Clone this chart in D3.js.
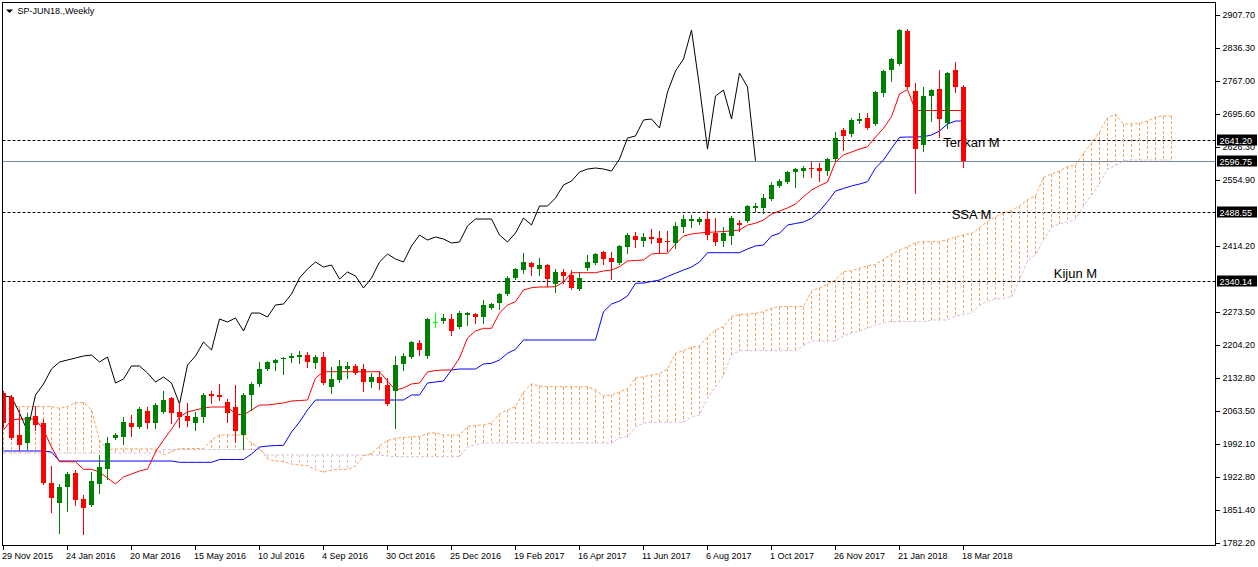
<!DOCTYPE html>
<html>
<head>
<meta charset="utf-8">
<script src="https://d3js.org/d3.v7.min.js"></script>
<style>
  html, body { margin: 0; padding: 0; background: #fff; }
  svg { display: block; font-family: "Liberation Sans", Arial, sans-serif; }
</style>
</head>
<body>
<div id="chart"></div>
<script>
// SP-JUN18 weekly bars, 29 Nov 2015 .. 18 Mar 2018 (121 bars)
const openP = [
  2101.9, 2093.4, 2012.4, 1995.4, 2052.9, 2038.0, 1910.1, 1867.5, 1901.6, 1931.4,
  1876.0, 1863.2, 1908.0, 1939.9, 2006.0, 2008.1, 2038.0, 2029.5, 2063.6, 2038.0,
  2061.4, 2091.3, 2061.4, 2052.9, 2038.0, 2050.8, 2099.8, 2097.7, 2082.7, 2072.1,
  2012.4, 2097.7, 2121.1, 2153.1, 2165.9, 2174.4, 2176.5, 2178.7, 2182.9, 2165.9,
  2178.7, 2114.7, 2129.6, 2153.1, 2159.5, 2153.1, 2125.4, 2136.0, 2119.0, 2106.2,
  2163.8, 2178.7, 2208.5, 2180.8, 2253.3, 2255.4, 2259.7, 2242.6, 2268.2, 2270.3,
  2263.9, 2283.1, 2293.8, 2313.0, 2347.1, 2364.1, 2379.0, 2366.3, 2374.8, 2334.3,
  2359.9, 2353.5, 2323.6, 2368.4, 2379.0, 2402.5, 2389.7, 2379.0, 2413.2, 2436.6,
  2425.9, 2434.5, 2432.3, 2425.9, 2421.7, 2455.8, 2468.6, 2466.4, 2472.8, 2443.0,
  2425.9, 2436.6, 2464.3, 2468.6, 2496.3, 2496.3, 2515.5, 2543.2, 2551.7, 2573.0,
  2575.1, 2581.5, 2581.5, 2575.1, 2600.7, 2662.5, 2654.0, 2681.7, 2688.1, 2675.3,
  2741.4, 2790.4, 2803.2, 2873.6, 2745.7, 2630.6, 2735.0, 2749.9, 2677.5, 2790.4,
  2754.2
];
const highP = [
  2106.2, 2097.7, 2065.7, 2059.3, 2074.2, 2046.5, 1946.3, 1908.0, 1933.5, 1937.8,
  1884.5, 1933.5, 1969.8, 2008.1, 2016.7, 2050.8, 2055.0, 2072.1, 2072.1, 2080.6,
  2106.2, 2093.4, 2080.6, 2080.6, 2061.4, 2101.9, 2106.2, 2121.1, 2089.1, 2119.0,
  2101.9, 2125.4, 2168.0, 2170.1, 2174.4, 2178.7, 2187.2, 2191.5, 2189.3, 2182.9,
  2189.3, 2157.4, 2172.3, 2168.0, 2163.8, 2163.8, 2144.6, 2148.8, 2133.9, 2180.8,
  2187.2, 2212.8, 2214.9, 2261.8, 2272.4, 2270.3, 2270.3, 2276.7, 2274.6, 2272.4,
  2300.2, 2293.8, 2315.1, 2351.3, 2368.4, 2400.4, 2381.2, 2389.7, 2376.9, 2366.3,
  2366.3, 2364.1, 2359.9, 2396.1, 2400.4, 2404.6, 2402.5, 2417.4, 2443.0, 2445.1,
  2443.0, 2451.5, 2447.3, 2447.3, 2466.4, 2481.4, 2481.4, 2477.1, 2489.9, 2474.9,
  2455.8, 2479.2, 2470.7, 2502.7, 2506.9, 2526.1, 2551.7, 2558.1, 2575.1, 2581.5,
  2585.8, 2594.3, 2592.2, 2602.9, 2658.3, 2666.8, 2688.1, 2698.8, 2698.8, 2745.7,
  2790.4, 2816.0, 2877.8, 2877.8, 2762.7, 2754.2, 2749.9, 2790.4, 2786.2, 2807.5,
  2758.5
];
const lowP = [
  2029.5, 2003.9, 1980.4, 1982.6, 2023.1, 1908.0, 1848.3, 1803.5, 1850.4, 1863.2,
  1801.4, 1861.1, 1888.8, 1918.6, 2003.9, 1993.2, 2010.3, 2027.3, 2027.3, 2027.3,
  2059.3, 2038.0, 2029.5, 2031.6, 2023.1, 2040.1, 2080.6, 2087.0, 2040.1, 1997.5,
  1982.6, 2065.7, 2116.8, 2151.0, 2151.0, 2142.4, 2168.0, 2165.9, 2157.4, 2155.2,
  2121.1, 2101.9, 2125.4, 2133.9, 2142.4, 2106.2, 2114.7, 2110.5, 2076.4, 2027.3,
  2151.0, 2176.5, 2182.9, 2176.5, 2242.6, 2251.1, 2225.6, 2240.5, 2246.9, 2251.1,
  2251.1, 2281.0, 2281.0, 2310.8, 2344.9, 2357.7, 2353.5, 2353.5, 2330.0, 2317.2,
  2336.4, 2323.6, 2321.5, 2364.1, 2376.9, 2376.9, 2344.9, 2376.9, 2400.4, 2413.2,
  2415.3, 2421.7, 2400.4, 2404.6, 2411.0, 2445.1, 2455.8, 2462.2, 2430.2, 2417.4,
  2415.3, 2419.5, 2447.3, 2466.4, 2489.9, 2485.6, 2513.3, 2541.0, 2549.6, 2541.0,
  2562.4, 2562.4, 2553.8, 2566.6, 2596.5, 2619.9, 2649.8, 2677.5, 2664.7, 2673.2,
  2735.0, 2767.0, 2801.1, 2752.1, 2528.2, 2617.8, 2681.7, 2647.6, 2666.8, 2743.5,
  2583.7
];
const closeP = [
  2038.0, 2006.0, 1991.1, 2050.8, 2033.7, 1910.1, 1878.1, 1901.6, 1929.3, 1873.9,
  1856.8, 1914.4, 1944.2, 1995.4, 2012.4, 2040.1, 2029.5, 2067.8, 2038.0, 2076.4,
  2087.0, 2059.3, 2050.8, 2042.3, 2050.8, 2097.7, 2095.5, 2093.4, 2059.3, 2020.9,
  2097.7, 2121.1, 2153.1, 2168.0, 2172.3, 2176.5, 2180.8, 2182.9, 2168.0, 2178.7,
  2123.2, 2131.8, 2159.5, 2159.5, 2144.6, 2125.4, 2136.0, 2123.2, 2078.5, 2161.6,
  2180.8, 2210.6, 2193.6, 2259.7, 2253.3, 2261.8, 2234.1, 2272.4, 2272.4, 2263.9,
  2289.5, 2291.6, 2313.0, 2347.1, 2366.3, 2381.2, 2370.5, 2374.8, 2344.9, 2359.9,
  2351.3, 2325.8, 2347.1, 2381.2, 2398.2, 2387.6, 2381.2, 2415.3, 2438.7, 2428.1,
  2434.5, 2430.2, 2421.7, 2423.8, 2457.9, 2472.8, 2472.8, 2472.8, 2438.7, 2423.8,
  2443.0, 2474.9, 2460.0, 2500.5, 2500.5, 2517.6, 2545.3, 2553.8, 2573.0, 2579.4,
  2581.5, 2579.4, 2575.1, 2600.7, 2645.5, 2649.8, 2683.9, 2686.0, 2666.8, 2743.5,
  2788.3, 2813.9, 2875.7, 2754.2, 2622.0, 2735.0, 2747.8, 2686.0, 2784.0, 2754.2,
  2596.75
];

// Ichimoku lines
const tenkan = [
  2023.1, 2044.4, 2046.5, 2046.5, 2046.5, 2023.1, 1986.8, 1955.5, 1955.5, 1955.5,
  1939.3, 1939.3, 1933.5, 1920.7, 1908.0, 1922.9, 1929.3, 1935.7, 1939.9, 1976.2,
  2001.7, 2025.0, 2050.8, 2061.4, 2065.7, 2070.0, 2072.1, 2072.1, 2072.1, 2057.2,
  2055.0, 2065.7, 2076.4, 2076.4, 2078.5, 2080.6, 2084.9, 2085.9, 2087.0, 2133.9,
  2147.3, 2147.3, 2147.3, 2147.3, 2147.3, 2147.3, 2147.3, 2147.3, 2127.5, 2108.3,
  2112.6, 2121.1, 2123.2, 2146.8, 2149.9, 2151.0, 2151.0, 2176.5, 2219.2, 2234.1,
  2239.8, 2239.8, 2272.4, 2289.5, 2296.6, 2321.5, 2326.4, 2327.9, 2327.9, 2328.5,
  2338.5, 2358.4, 2358.4, 2358.4, 2358.4, 2362.0, 2364.1, 2371.2, 2383.3, 2384.4,
  2385.4, 2398.2, 2399.7, 2399.7, 2419.5, 2436.6, 2440.9, 2443.0, 2444.5, 2445.1,
  2446.2, 2447.3, 2449.4, 2460.0, 2463.7, 2470.7, 2483.5, 2489.9, 2496.3, 2504.8,
  2520.4, 2534.6, 2543.8, 2551.7, 2594.3, 2609.3, 2615.6, 2622.0, 2626.9, 2647.6,
  2666.2, 2690.9, 2739.3, 2748.9, 2704.1, 2704.1, 2704.1, 2704.1, 2704.1, 2704.1,
  2704.1
];
const kijun = [
  1978.3, 1978.3, 1978.3, 1978.3, 1978.3, 1978.3, 1976.2, 1956.9, 1956.9, 1956.9,
  1956.9, 1956.9, 1956.9, 1956.9, 1956.9, 1956.9, 1956.9, 1956.9, 1956.9, 1956.9,
  1956.9, 1956.9, 1954.2, 1954.2, 1954.2, 1954.2, 1954.2, 1960.2, 1960.2, 1960.2,
  1960.2, 1971.9, 1986.8, 1988.9, 1990.0, 1990.4, 2018.8, 2040.1, 2065.7, 2087.0,
  2087.0, 2087.0, 2087.0, 2087.0, 2087.0, 2087.0, 2087.0, 2087.0, 2087.0, 2087.0,
  2087.0, 2097.7, 2097.7, 2123.2, 2125.4, 2127.5, 2151.0, 2153.1, 2153.1, 2153.1,
  2163.8, 2165.2, 2172.3, 2186.6, 2195.1, 2214.9, 2214.9, 2214.9, 2214.9, 2214.9,
  2214.9, 2214.9, 2214.9, 2214.9, 2214.9, 2275.2, 2291.6, 2298.0, 2308.7, 2335.8,
  2336.4, 2339.6, 2342.8, 2350.3, 2357.1, 2364.1, 2370.5, 2381.2, 2401.0, 2401.0,
  2401.0, 2401.0, 2401.0, 2408.9, 2415.3, 2417.4, 2436.6, 2442.3, 2460.0, 2463.2,
  2466.4, 2474.3, 2489.9, 2509.7, 2532.5, 2537.9, 2543.2, 2547.4, 2552.4, 2581.5,
  2598.6, 2623.5, 2647.0, 2647.6, 2647.6, 2648.3, 2651.9, 2660.4, 2675.3, 2681.7,
  2681.7
];
// senkou spans run 26 bars past the last candle (147 values)
const spanA = [
  2061.4, 2073.1, 2073.1, 2073.1, 2073.1, 2073.1, 2073.1, 2069.3, 2073.1, 2081.7,
  2081.7, 2065.7, 2001.7, 1981.5, 1982.6, 1982.6, 1982.6, 1982.6, 1982.6, 1982.6,
  1969.8, 1976.2, 1983.6, 1983.6, 1983.6, 1983.6, 2001.7, 2012.4, 2012.4, 2012.4,
  2012.4, 1994.7, 1985.3, 1961.2, 1957.0, 1955.5, 1950.6, 1948.5, 1947.0, 1938.9,
  1932.9, 1937.8, 1938.9, 1939.3, 1946.3, 1968.3, 1973.0, 1989.0, 2000.7, 2005.4,
  2007.1, 2008.8, 2008.8, 2016.0, 2017.3, 2012.4, 2012.4, 2012.4, 2030.5, 2032.7,
  2033.7, 2038.0, 2057.2, 2065.7, 2072.7, 2104.1, 2121.1, 2116.9, 2115.4, 2115.4,
  2115.4, 2115.4, 2115.4, 2115.4, 2108.3, 2095.5, 2097.7, 2104.1, 2111.1, 2133.9,
  2136.7, 2140.3, 2143.5, 2153.1, 2186.6, 2192.1, 2199.3, 2202.1, 2221.3, 2236.2,
  2243.3, 2265.0, 2269.3, 2270.3, 2271.8, 2275.2, 2282.5, 2286.3, 2286.3, 2286.3,
  2286.3, 2319.4, 2325.8, 2334.3, 2342.8, 2360.5, 2362.6, 2367.7, 2373.3, 2375.8,
  2386.9, 2397.6, 2406.8, 2413.2, 2422.7, 2424.4, 2424.4, 2424.4, 2429.1, 2434.5,
  2438.7, 2442.3, 2454.7, 2467.5, 2477.7, 2485.0, 2491.0, 2500.5, 2514.4, 2521.9,
  2561.7, 2568.7, 2575.1, 2584.7, 2587.9, 2612.5, 2634.8, 2658.3, 2688.1, 2696.6,
  2675.3, 2675.3, 2676.8, 2681.7, 2690.3, 2692.4, 2692.4
];
const spanB = [
  1974.0, 1974.0, 1974.0, 1974.0, 1974.0, 1974.0, 1974.0, 1974.0, 1974.0, 1974.0,
  1974.0, 1974.0, 1974.0, 1974.0, 1974.0, 1974.0, 1974.0, 1974.0, 1974.0, 1974.0,
  1981.5, 1981.5, 1981.5, 1981.5, 1981.5, 1981.5, 1981.5, 1981.5, 1981.5, 1981.5,
  1981.5, 1981.5, 1981.5, 1969.8, 1969.8, 1969.8, 1969.8, 1969.8, 1969.8, 1969.8,
  1969.8, 1969.8, 1969.8, 1969.8, 1969.8, 1969.8, 1969.8, 1969.8, 1967.6, 1966.1,
  1966.1, 1966.1, 1966.1, 1966.1, 1966.1, 1966.1, 1966.1, 1966.1, 1986.8, 1991.1,
  1995.4, 1995.4, 1995.4, 1995.4, 1995.4, 1995.4, 1995.4, 1995.4, 1995.4, 1995.4,
  1995.4, 1995.4, 1995.4, 1995.4, 1995.4, 1995.4, 1995.4, 2006.0, 2008.8, 2029.5,
  2037.4, 2039.5, 2039.5, 2039.5, 2039.5, 2039.5, 2051.4, 2055.0, 2091.3, 2115.4,
  2140.3, 2183.0, 2192.1, 2192.1, 2192.1, 2192.1, 2192.1, 2192.1, 2192.1, 2192.1,
  2202.1, 2212.8, 2212.8, 2212.8, 2212.8, 2223.4, 2229.8, 2234.1, 2239.8, 2246.9,
  2251.1, 2254.3, 2254.3, 2254.3, 2254.3, 2254.3, 2257.5, 2257.5, 2257.5, 2266.1,
  2269.3, 2272.5, 2288.4, 2298.0, 2302.3, 2303.8, 2307.2, 2342.8, 2383.3, 2396.1,
  2428.1, 2455.8, 2462.2, 2466.4, 2470.7, 2500.5, 2524.0, 2548.5, 2579.4, 2586.9,
  2596.5, 2598.6, 2598.6, 2598.6, 2598.6, 2598.6, 2598.6
];

const dateLabels = [
  "29 Nov 2015", "24 Jan 2016", "20 Mar 2016", "15 May 2016", "10 Jul 2016", "4 Sep 2016",
  "30 Oct 2016", "25 Dec 2016", "19 Feb 2017", "16 Apr 2017", "11 Jun 2017", "6 Aug 2017",
  "1 Oct 2017", "26 Nov 2017", "21 Jan 2018", "18 Mar 2018"
];
const dateBars = [0, 8, 16, 24, 32, 40, 48, 56, 64, 72, 80, 88, 96, 104, 112, 120];
// ticks hidden under the level boxes (2485.60, 2344.90) are left out
const priceTicks = [
  2907.70, 2836.30, 2767.00, 2695.60, 2626.30, 2554.90, 2414.20,
  2273.50, 2204.20, 2132.80, 2063.50, 1992.10, 1922.80, 1851.40, 1782.20
];
const levelPrices = [2641.20, 2488.55, 2340.14];
const bidPrice = 2596.75;
const markedPrices = [2641.20, 2596.75, 2488.55, 2340.14];
const textNames = ["Tenkan M", "SSA M", "Kijun M"];
const textBars = [121, 121, 134];
const textPrices = [2635.9, 2483.5, 2357.7];

const W = 1258, H = 567;
const frame = { left: 2.5, top: 2.5, right: 1215.5, bottom: 545.5 };
const FONT = '"Liberation Sans", Arial, sans-serif';

// bar centre: 8 px per week
const x = d3.scaleLinear().domain([0, 120]).range([3.5, 963.5]);
const y = d3.scaleLinear().domain([1782.2, 2907.7]).range([543, 15]);

const svg = d3.select('#chart').append('svg')
  .attr('width', W)
  .attr('height', H);

svg.append('rect').attr('width', W).attr('height', H).attr('fill', '#fff');

svg.append('defs').append('clipPath').attr('id', 'plot-clip')
  .append('rect')
  .attr('x', 3).attr('y', 3)
  .attr('width', frame.right - 3.5).attr('height', frame.bottom - 3.5);

const plot = svg.append('g').attr('clip-path', 'url(#plot-clip)');

// horizontal levels
plot.selectAll('line.level')
  .data(levelPrices)
  .enter().append('line')
  .attr('class', 'level')
  .attr('x1', frame.left).attr('x2', frame.right)
  .attr('y1', d => Math.round(y(d)) + 0.5)
  .attr('y2', d => Math.round(y(d)) + 0.5)
  .attr('stroke', '#000')
  .attr('stroke-dasharray', '3,2');

plot.append('line')
  .attr('x1', frame.left).attr('x2', frame.right)
  .attr('y1', Math.round(y(bidPrice)) + 0.5)
  .attr('y2', Math.round(y(bidPrice)) + 0.5)
  .attr('stroke', '#778899');

// kumo hatching, one dotted stick per bar
const cloud = spanA.map((a, i) => ({ i, a, b: spanB[i] }));
plot.selectAll('line.kumo')
  .data(cloud)
  .enter().append('line')
  .attr('class', 'kumo')
  .attr('x1', d => x(d.i)).attr('x2', d => x(d.i))
  .attr('y1', d => y(Math.max(d.a, d.b)))
  .attr('y2', d => y(Math.min(d.a, d.b)))
  .attr('stroke', d => d.a >= d.b ? '#F4A460' : '#D8BFD8')
  .attr('stroke-dasharray', '3,2')
  .attr('shape-rendering', 'crispEdges');

const line = d3.line().x((d, i) => x(i)).y(d => y(d));

plot.append('path').datum(spanB)
  .attr('d', line).attr('fill', 'none')
  .attr('stroke', '#D8BFD8').attr('stroke-dasharray', '3,2');
plot.append('path').datum(spanA)
  .attr('d', line).attr('fill', 'none')
  .attr('stroke', '#F4A460').attr('stroke-dasharray', '3,2');

plot.append('path').datum(kijun)
  .attr('d', line).attr('fill', 'none').attr('stroke', '#0000FF');
plot.append('path').datum(tenkan)
  .attr('d', line).attr('fill', 'none').attr('stroke', '#FF0000');

// chikou = close moved 26 bars back
plot.append('path').datum(closeP.slice(26))
  .attr('d', line).attr('fill', 'none').attr('stroke', '#000');

// text objects on the chart
plot.selectAll('text.note')
  .data(textNames)
  .enter().append('text')
  .attr('class', 'note')
  .attr('x', (d, i) => x(textBars[i]))
  .attr('y', (d, i) => y(textPrices[i]))
  .attr('dy', '0.35em')
  .attr('text-anchor', 'middle')
  .attr('font-family', FONT)
  .attr('font-size', 13)
  .attr('fill', '#000')
  .text(d => d);

// candles
const bars = closeP.map((c, i) => ({ i, o: openP[i], h: highP[i], l: lowP[i], c }));
const barColor = d => d.c > d.o ? '#008000' : (d.c < d.o ? '#FF0000' : '#00FF00');

const candle = plot.selectAll('g.candle')
  .data(bars)
  .enter().append('g')
  .attr('class', 'candle')
  .attr('shape-rendering', 'crispEdges');

candle.append('line')
  .attr('x1', d => x(d.i)).attr('x2', d => x(d.i))
  .attr('y1', d => Math.round(y(d.h)))
  .attr('y2', d => Math.round(y(d.l)) + 1)
  .attr('stroke', barColor);

candle.append('rect')
  .attr('x', d => x(d.i) - 2.5)
  .attr('width', 5)
  .attr('y', d => Math.round(y(Math.max(d.o, d.c))))
  .attr('height', d => Math.max(1, Math.round(y(Math.min(d.o, d.c))) - Math.round(y(Math.max(d.o, d.c)))))
  .attr('fill', barColor);

// frame
svg.append('rect')
  .attr('x', frame.left).attr('y', frame.top)
  .attr('width', frame.right - frame.left)
  .attr('height', frame.bottom - frame.top)
  .attr('fill', 'none').attr('stroke', '#000');

// price scale
const yAxis = d3.axisRight(y)
  .tickValues(priceTicks)
  .tickSize(4)
  .tickPadding(3)
  .tickFormat(d3.format('.2f'))
  .offset(0);

svg.append('g')
  .attr('transform', `translate(${frame.right},0)`)
  .call(yAxis)
  .attr('font-family', FONT)
  .attr('font-size', 9)
  .call(g => g.select('.domain').remove())
  .call(g => g.selectAll('.tick line').attr('shape-rendering', 'crispEdges'))
  .call(g => g.selectAll('.tick text').attr('fill', '#000'));

const marks = svg.selectAll('g.mark')
  .data(markedPrices)
  .enter().append('g')
  .attr('class', 'mark')
  .attr('transform', d => `translate(0,${Math.round(y(d))})`);

marks.append('rect')
  .attr('x', 1217).attr('y', -5.5)
  .attr('width', 40).attr('height', 11)
  .attr('fill', '#000');

marks.append('text')
  .attr('x', 1219.5).attr('y', 3.5)
  .attr('font-family', FONT)
  .attr('font-size', 9)
  .attr('fill', '#fff')
  .text(d => d3.format('.2f')(d));

// time scale
const xAxis = d3.axisBottom(x)
  .tickValues(dateBars)
  .tickSize(4)
  .tickFormat((d, i) => dateLabels[i])
  .offset(0);

svg.append('g')
  .attr('transform', `translate(0,${frame.bottom})`)
  .call(xAxis)
  .attr('font-family', FONT)
  .attr('font-size', 9)
  .call(g => g.select('.domain').remove())
  .call(g => g.selectAll('.tick line').attr('shape-rendering', 'crispEdges'))
  .call(g => g.selectAll('.tick text')
    .attr('text-anchor', 'start')
    .attr('x', -1.5)
    .attr('y', 13.5)
    .attr('dy', 0)
    .attr('fill', '#000'));

// title
svg.append('path')
  .attr('d', 'M6,9.5 L13,9.5 L9.5,13 Z')
  .attr('fill', '#000');
svg.append('text')
  .attr('x', 17.5).attr('y', 14)
  .attr('font-family', FONT)
  .attr('font-size', 9)
  .attr('fill', '#000')
  .text('SP-JUN18.,Weekly');
</script>
</body>
</html>
